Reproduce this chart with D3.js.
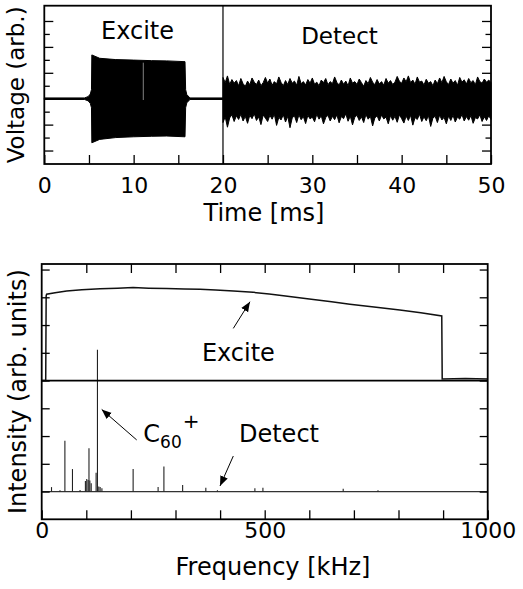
<!DOCTYPE html>
<html>
<head>
<meta charset="utf-8">
<script src="https://cdn.jsdelivr.net/npm/d3@7"></script>
<style>
  body { margin: 0; background: #fff; }
  text { font-family: "DejaVu Sans", sans-serif; fill: #000; }
</style>
</head>
<body>
<div id="chart"></div>
<script>

// top panel: time trace (ms, arb. voltage)
var exciteTime  = [0, 4.5, 4.9, 5.15, 5.28, 5.32, 6.2, 8, 10, 12, 13.7, 15.75, 15.82, 15.95, 16.3, 20]
var exciteUpper = [0.03, 0.03, 0.08, 0.18, 0.35, 1.69, 1.56, 1.51, 1.49, 1.47, 1.46, 1.43, 0.35, 0.16, 0.03, 0.03]
var exciteLower = [-0.03, -0.03, -0.08, -0.18, -0.35, -1.70, -1.57, -1.50, -1.47, -1.45, -1.44, -1.47, -0.35, -0.16, -0.03, -0.03]
var exciteGap = {t: 11.08, from: -0.05, to: 1.39}

// detect noise envelope, every 0.25 ms from 20 to 50 ms
var detectUpper = [
  0.82, 0.62, 0.88, 0.55, 0.74, 0.60, 0.70, 0.50, 0.78, 0.58,
  0.48, 0.68, 0.54, 0.80, 0.64, 0.55, 0.72, 0.50, 0.62, 0.82,
  0.60, 0.76, 0.52, 0.66, 0.57, 0.84, 0.63, 0.50, 0.70, 0.55,
  0.78, 0.60, 0.68, 0.52, 0.86, 0.58, 0.66, 0.53, 0.74, 0.60,
  0.80, 0.56, 0.64, 0.50, 0.72, 0.62, 0.78, 0.54, 0.66, 0.58,
  0.84, 0.63, 0.53, 0.72, 0.56, 0.68, 0.50, 0.80, 0.60, 0.66,
  0.55, 0.76, 0.62, 0.48, 0.70, 0.58, 0.82, 0.64, 0.54, 0.74,
  0.57, 0.66, 0.52, 0.78, 0.60, 0.70, 0.55, 0.64, 0.86, 0.67,
  0.60, 0.80, 0.65, 0.88, 0.62, 0.72, 0.56, 0.84, 0.64, 0.68,
  0.53, 0.75, 0.60, 0.66, 0.50, 0.72, 0.58, 0.80, 0.62, 0.86,
  0.65, 0.55, 0.76, 0.60, 0.70, 0.52, 0.82, 0.64, 0.73, 0.57,
  0.78, 0.62, 0.70, 0.54, 0.84, 0.66, 0.60, 0.76, 0.64, 0.72,
  0.62]
var detectLower = [
  -0.92, -0.70, -1.10, -0.74, -0.62, -0.88, -0.66, -0.80, -0.60, -0.86,
  -0.68, -0.95, -0.64, -0.77, -0.58, -0.84, -0.70, -1.00, -0.63, -0.75,
  -0.88, -0.64, -0.79, -0.60, -1.03, -0.72, -0.82, -0.62, -0.90, -0.68,
  -1.12, -0.74, -0.66, -0.92, -0.62, -0.81, -0.69, -0.96, -0.64, -0.78,
  -0.71, -0.89, -0.60, -0.79, -0.66, -0.97, -0.73, -0.64, -0.86, -0.68,
  -0.81, -0.62, -0.93, -0.69, -0.77, -0.58, -0.87, -0.67, -1.01, -0.72,
  -0.64, -0.84, -0.70, -0.92, -0.61, -0.79, -0.68, -1.05, -0.74, -0.66,
  -0.86, -0.63, -0.78, -0.71, -0.97, -0.65, -0.83, -0.68, -0.91, -0.62,
  -0.77, -0.94, -0.67, -0.84, -0.64, -1.02, -0.73, -0.80, -0.60, -0.88,
  -0.70, -0.85, -0.65, -1.07, -0.74, -0.68, -0.92, -0.63, -0.82, -0.72,
  -0.97, -0.67, -0.84, -0.64, -0.90, -0.71, -0.79, -0.61, -0.86, -0.69,
  -0.83, -0.65, -0.95, -0.73, -0.78, -0.62, -0.88, -0.70, -0.84, -0.66,
  -0.80]
var detectStart = 20, detectStep = 0.25

// bottom panel: spectra (kHz, arb. intensity)
var exciteFreq = [0, 9, 10, 11, 30, 56, 90, 131, 170, 205, 240, 280, 320, 355, 390, 430, 474, 510, 542, 600, 650, 691, 750, 803, 850, 897, 898, 950, 1000]
var exciteSpec = [0, 0, 3.05, 3.11, 3.16, 3.23, 3.27, 3.31, 3.33, 3.35, 3.33, 3.32, 3.30, 3.29, 3.26, 3.23, 3.18, 3.12, 3.06, 2.94, 2.84, 2.75, 2.64, 2.54, 2.44, 2.33, 0.06, 0.07, 0.06]
var exciteOffset = 4

var peakFreq   = [22, 41, 52, 69, 86, 98, 101, 104, 106, 108, 111, 122, 125, 128, 131, 135, 205, 261, 274, 316, 368, 394, 478, 496, 676, 754]
var peakHeight = [0.16, 0.05, 1.83, 0.81, 0.06, 0.38, 0.45, 0.42, 1.56, 0.40, 0.30, 0.68, 5.11, 0.18, 0.16, 0.12, 0.81, 0.16, 0.90, 0.24, 0.14, 0.05, 0.12, 0.14, 0.10, 0.05]

var timeTicks = [0, 10, 20, 30, 40, 50]
var freqTicks = [0, 500, 1000]


var svg = d3.select("#chart").append("svg")
  .attr("width", 523)
  .attr("height", 589)

// scales
var x1 = d3.scaleLinear().domain([0, 50]).range([44.3, 491])
var y1 = d3.scaleLinear().domain([-2.52, 3.59]).range([164, 5.7])
var x2 = d3.scaleLinear().domain([0, 1000]).range([41.7, 487.7])
var y2 = d3.scaleLinear().domain([-1, 8.2]).range([519.3, 264])


// style an axis group after d3 has drawn it
function style_axis(g, size){
  g.select(".domain").remove()
  g.selectAll("line").attr("stroke", "#000").attr("stroke-width", 1.3)
  g.attr("font-family", "DejaVu Sans").attr("font-size", size)
  g.selectAll("text").attr("fill", "#000")
}


// ---------- top panel ----------
var topPanel = svg.append("g")

// excite burst drawn as its envelope
var exciteData = exciteTime.map(function(t, i){ return {t: t, hi: exciteUpper[i], lo: exciteLower[i]} })
topPanel.append("path")
  .datum(exciteData)
  .attr("d", d3.area().x(function(d){ return x1(d.t) }).y0(function(d){ return y1(d.lo) }).y1(function(d){ return y1(d.hi) }))
  .attr("fill", "#000")
  .attr("stroke", "#000")
  .attr("stroke-width", 1)

// thin light notch in the burst
topPanel.append("line")
  .attr("x1", x1(exciteGap.t)).attr("x2", x1(exciteGap.t))
  .attr("y1", y1(exciteGap.from)).attr("y2", y1(exciteGap.to))
  .attr("stroke", "#bbb")
  .attr("stroke-width", 0.7)

// detect noise
var detectData = detectUpper.map(function(u, i){ return {t: detectStart + i * detectStep, hi: u, lo: detectLower[i]} })
topPanel.append("path")
  .datum(detectData)
  .attr("d", d3.area().x(function(d){ return x1(d.t) }).y0(function(d){ return y1(d.lo) }).y1(function(d){ return y1(d.hi) }))
  .attr("fill", "#000")
  .attr("stroke", "#000")
  .attr("stroke-width", 1)

// boundary between excite and detect
topPanel.append("line")
  .attr("x1", x1(20)).attr("x2", x1(20))
  .attr("y1", y1.range()[0]).attr("y2", y1.range()[1])
  .attr("stroke", "#000")
  .attr("stroke-width", 1.2)

// axes
topPanel.append("g").attr("transform", "translate(0," + y1.range()[0] + ")")
  .call(d3.axisBottom(x1).tickValues(d3.range(0, 51, 5)).tickSizeInner(-9).tickSizeOuter(0).tickPadding(13)
    .tickFormat(function(d){ return timeTicks.indexOf(d) >= 0 ? d : "" }))
  .call(style_axis, 22)

topPanel.append("g").attr("transform", "translate(" + x1.range()[0] + ",0)")
  .call(d3.axisLeft(y1).tickValues([-2, -1, 0, 1, 2, 3]).tickSizeInner(-9).tickSizeOuter(0).tickFormat(""))
  .call(style_axis, 22)
topPanel.append("g").attr("transform", "translate(" + x1.range()[0] + ",0)")
  .call(d3.axisLeft(y1).tickValues([-1.5, -0.5, 0.5, 1.5, 2.5]).tickSizeInner(-5.5).tickSizeOuter(0).tickFormat(""))
  .call(style_axis, 22)
topPanel.append("g").attr("transform", "translate(" + x1.range()[1] + ",0)")
  .call(d3.axisRight(y1).tickValues([-2, -1, 0, 1, 2, 3]).tickSizeInner(-9).tickSizeOuter(0).tickFormat(""))
  .call(style_axis, 22)
topPanel.append("g").attr("transform", "translate(" + x1.range()[1] + ",0)")
  .call(d3.axisRight(y1).tickValues([-1.5, -0.5, 0.5, 1.5, 2.5]).tickSizeInner(-5.5).tickSizeOuter(0).tickFormat(""))
  .call(style_axis, 22)

// frame
topPanel.append("rect")
  .attr("x", x1.range()[0]).attr("y", y1.range()[1])
  .attr("width", x1.range()[1] - x1.range()[0])
  .attr("height", y1.range()[0] - y1.range()[1])
  .attr("fill", "none")
  .attr("stroke", "#000")
  .attr("stroke-width", 1.8)

// labels
topPanel.append("text")
  .attr("x", x1(10.43)).attr("y", y1(2.29))
  .attr("text-anchor", "middle")
  .attr("font-size", 24)
  .text("Excite")
topPanel.append("text")
  .attr("x", x1(33.04)).attr("y", y1(2.11))
  .attr("text-anchor", "middle")
  .attr("font-size", 23)
  .text("Detect")
topPanel.append("text")
  .attr("x", 264).attr("y", 220.5)
  .attr("text-anchor", "middle")
  .attr("font-size", 24)
  .text("Time [ms]")
topPanel.append("text")
  .attr("transform", "translate(23.5," + y1(0.535) + ") rotate(-90)")
  .attr("text-anchor", "middle")
  .attr("font-size", 23)
  .text("Voltage (arb.)")


// ---------- bottom panel ----------
var bottomPanel = svg.append("g")

// arrow head marker
svg.append("defs").append("marker")
  .attr("id", "head")
  .attr("viewBox", "0 0 10 10")
  .attr("refX", 10).attr("refY", 5)
  .attr("markerWidth", 10).attr("markerHeight", 10)
  .attr("markerUnits", "userSpaceOnUse")
  .attr("orient", "auto")
  .append("path")
  .attr("d", "M0,1 L10,5 L0,9 Z")
  .attr("fill", "#000")

// detect baseline and peaks
bottomPanel.append("line")
  .attr("x1", x2(0)).attr("x2", x2(1000))
  .attr("y1", y2(0)).attr("y2", y2(0))
  .attr("stroke", "#333")
  .attr("stroke-width", 1.3)

bottomPanel.selectAll(".peak")
  .data(peakFreq)
  .enter().append("line")
  .attr("class", "peak")
  .attr("x1", function(d){ return x2(d) })
  .attr("x2", function(d){ return x2(d) })
  .attr("y1", y2(0))
  .attr("y2", function(d, i){ return y2(peakHeight[i]) })
  .attr("stroke", "#222")
  .attr("stroke-width", 1.1)

// excite spectrum sits on its own baseline
bottomPanel.append("line")
  .attr("x1", x2(0)).attr("x2", x2(1000))
  .attr("y1", y2(exciteOffset)).attr("y2", y2(exciteOffset))
  .attr("stroke", "#000")
  .attr("stroke-width", 1.8)

bottomPanel.append("path")
  .datum(exciteFreq.map(function(f, i){ return [f, exciteSpec[i] + exciteOffset] }))
  .attr("d", d3.line().x(function(d){ return x2(d[0]) }).y(function(d){ return y2(d[1]) }))
  .attr("fill", "none")
  .attr("stroke", "#111")
  .attr("stroke-width", 1.5)

// axes
bottomPanel.append("g").attr("transform", "translate(0," + y2.range()[0] + ")")
  .call(d3.axisBottom(x2).tickValues(d3.range(0, 1001, 100)).tickSizeInner(-9).tickSizeOuter(0).tickPadding(3.4)
    .tickFormat(function(d){ return freqTicks.indexOf(d) >= 0 ? d : "" }))
  .call(style_axis, 22)
bottomPanel.append("g").attr("transform", "translate(0," + y2.range()[1] + ")")
  .call(d3.axisTop(x2).tickValues(d3.range(100, 901, 100)).tickSizeInner(-9).tickSizeOuter(0).tickFormat(""))
  .call(style_axis, 22)
bottomPanel.append("g").attr("transform", "translate(" + x2.range()[0] + ",0)")
  .call(d3.axisLeft(y2).tickValues(d3.range(0, 9)).tickSizeInner(-8).tickSizeOuter(0).tickFormat(""))
  .call(style_axis, 22)
bottomPanel.append("g").attr("transform", "translate(" + x2.range()[1] + ",0)")
  .call(d3.axisRight(y2).tickValues(d3.range(0, 9)).tickSizeInner(-8).tickSizeOuter(0).tickFormat(""))
  .call(style_axis, 22)

// frame
bottomPanel.append("rect")
  .attr("x", x2.range()[0]).attr("y", y2.range()[1])
  .attr("width", x2.range()[1] - x2.range()[0])
  .attr("height", y2.range()[0] - y2.range()[1])
  .attr("fill", "none")
  .attr("stroke", "#000")
  .attr("stroke-width", 1.8)

// annotations with arrows
function arrow(from, to){
  bottomPanel.append("line")
    .attr("x1", x2(from[0])).attr("y1", y2(from[1]))
    .attr("x2", x2(to[0])).attr("y2", y2(to[1]))
    .attr("stroke", "#000")
    .attr("stroke-width", 1)
    .attr("marker-end", "url(#head)")
}
arrow([429.6, 5.88], [467, 6.84])
arrow([213, 1.86], [134.5, 2.96])
arrow([429.6, 1.28], [399.8, 0.20])

bottomPanel.append("text")
  .attr("x", x2(441)).attr("y", y2(4.70))
  .attr("text-anchor", "middle")
  .attr("font-size", 24)
  .text("Excite")
bottomPanel.append("text")
  .attr("x", x2(532)).attr("y", y2(1.80))
  .attr("text-anchor", "middle")
  .attr("font-size", 24)
  .text("Detect")

var c60 = bottomPanel.append("text")
  .attr("x", x2(227.8)).attr("y", y2(1.77))
  .attr("font-size", 24)
c60.append("tspan").text("C")
c60.append("tspan").attr("font-size", 17).attr("dy", 6).text("60")
c60.append("tspan").attr("font-size", 20).attr("dy", -20).attr("dx", 1).text("+")

bottomPanel.append("text")
  .attr("x", 273).attr("y", 575.2)
  .attr("text-anchor", "middle")
  .attr("font-size", 24)
  .text("Frequency [kHz]")
bottomPanel.append("text")
  .attr("transform", "translate(25.5," + ((y2.range()[0] + y2.range()[1]) / 2) + ") rotate(-90)")
  .attr("text-anchor", "middle")
  .attr("font-size", 24)
  .text("Intensity (arb. units)")

</script>
</body>
</html>
